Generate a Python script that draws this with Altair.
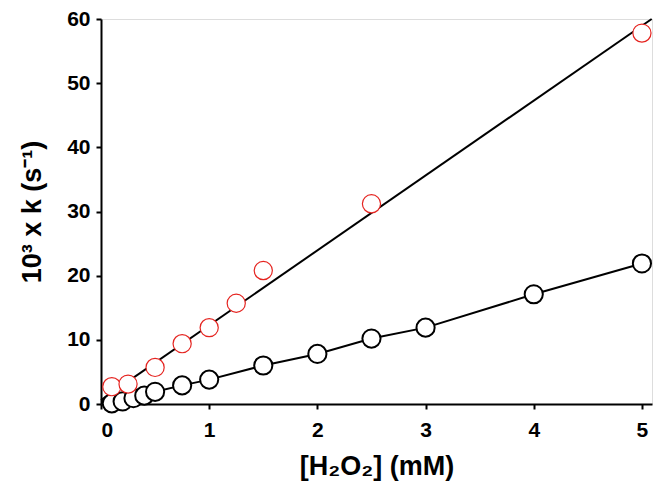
import altair as alt
import pandas as pd

# Black series (open black circles, connected)
black_x = [0.1, 0.2, 0.3, 0.4, 0.5, 0.75, 1.0, 1.5, 2.0, 2.5, 3.0, 4.0, 5.0]
black_y = [0.1, 0.4, 0.9, 1.3, 1.9, 2.9, 3.8, 6.0, 7.8, 10.2, 11.9, 17.1, 21.9]

# Red series (open red circles)
red_x = [0.1, 0.25, 0.5, 0.75, 1.0, 1.25, 1.5, 2.5, 5.0]
red_y = [2.7, 3.1, 5.7, 9.4, 11.9, 15.7, 20.8, 31.2, 57.8]

# Red fitted line end points
red_fit_x = [0.0, 5.09]
red_fit_y = [0.6, 60.0]

x_ticks = [0, 1, 2, 3, 4, 5]
y_ticks = [0, 10, 20, 30, 40, 50, 60]

black = pd.DataFrame({"x": black_x, "y": black_y})
red = pd.DataFrame({"x": red_x, "y": red_y})
red_fit = pd.DataFrame({"x": red_fit_x, "y": red_fit_y})

FONT = "Liberation Sans"

xs = alt.Scale(domain=[0, 5.093], nice=False, zero=False)
ys = alt.Scale(domain=[0, 60], nice=False)

common = dict(grid=False, format="d",
              labelFont=FONT, labelFontSize=21, labelFontWeight="bold", labelColor="black",
              titleFont=FONT, titleFontSize=27, titleFontWeight="bold", titleColor="black",
              domainColor="black", domainWidth=2, tickColor="black", tickWidth=2, tickSize=5)
xax = alt.Axis(values=x_ticks, title="[H₂O₂] (mM)", labelPadding=10, titlePadding=13, **common)
yax = alt.Axis(values=y_ticks, title="10³ x k (s⁻¹)", labelPadding=6, titlePadding=20, **common)

fit_line = alt.Chart(red_fit).mark_line(color="black", strokeWidth=2).encode(
    x=alt.X("x:Q", scale=xs, axis=xax),
    y=alt.Y("y:Q", scale=ys, axis=yax),
)

black_line = alt.Chart(black).mark_line(color="black", strokeWidth=2).encode(
    x=alt.X("x:Q", scale=xs),
    y=alt.Y("y:Q", scale=ys),
    order="x:Q",
)

black_pts = alt.Chart(black).mark_point(
    shape="circle", filled=False, fill="white", fillOpacity=1,
    stroke="black", strokeWidth=2, size=330, opacity=1,
).encode(x=alt.X("x:Q", scale=xs), y=alt.Y("y:Q", scale=ys))

red_pts = alt.Chart(red).mark_point(
    shape="circle", filled=False, fill="white", fillOpacity=1,
    stroke="#e52420", strokeWidth=1.2, size=330, opacity=1,
).encode(x=alt.X("x:Q", scale=xs), y=alt.Y("y:Q", scale=ys))

chart = alt.layer(fit_line, black_line, black_pts, red_pts).properties(
    width=551, height=385,
    autosize=alt.AutoSizeParams(type="none"),
    padding={"left": 93, "top": 11, "right": 3, "bottom": 93},
).configure_view(stroke="black", strokeWidth=2, clip=False).configure(background="white")

chart.save("out.html", embed_options={"renderer": "svg", "actions": False})
